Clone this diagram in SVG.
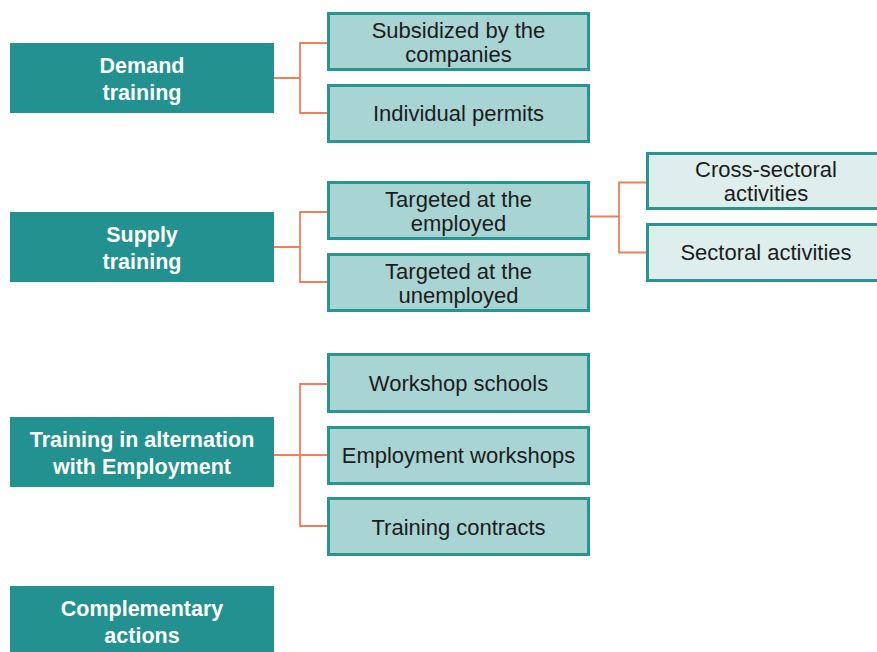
<svg xmlns="http://www.w3.org/2000/svg" width="877" height="652" viewBox="0 0 877 652">
  <style>
    .main rect { fill: #23918f; }
    .main text { fill: #ffffff; font-family: "Liberation Sans", Arial, sans-serif; font-size: 21.5px; font-weight: bold; text-anchor: middle; }
    .sub rect { fill: #a8d4d4; stroke: #2a9491; stroke-width: 3; }
    .leaf rect { fill: #ddeeed; stroke: #2a9491; stroke-width: 3; }
    .sub text, .leaf text { fill: #1c1c1c; font-family: "Liberation Sans", Arial, sans-serif; font-size: 22px; text-anchor: middle; }
    .links path { fill: none; stroke: #ef7f58; stroke-width: 1.8; }
  </style>
  <rect width="877" height="652" fill="#ffffff"/>

  <!-- connectors -->
  <g class="links">
    <path d="M274,78 H300 M327,43 H300 V113 H327"/>
    <path d="M274,247 H300 M327,212 H300 V282 H327"/>
    <path d="M590,216.5 H619 M646,182.5 H619 V252.5 H646"/>
    <path d="M274,455 H327 M327,384 H300 V526 H327"/>
  </g>

  <!-- main categories -->
  <g id="demand-training" class="main">
    <rect x="10" y="43" width="264" height="70"/>
    <text x="142" y="73">Demand</text>
    <text x="142" y="100">training</text>
  </g>
  <g id="supply-training" class="main">
    <rect x="10" y="212" width="264" height="70"/>
    <text x="142" y="242">Supply</text>
    <text x="142" y="269">training</text>
  </g>
  <g id="alternation-training" class="main">
    <rect x="10" y="417" width="264" height="70"/>
    <text x="142" y="447">Training in alternation</text>
    <text x="142" y="474">with Employment</text>
  </g>
  <g id="complementary-actions" class="main">
    <rect x="10" y="586" width="264" height="72"/>
    <text x="142" y="616">Complementary</text>
    <text x="142" y="643">actions</text>
  </g>

  <!-- demand training branches -->
  <g id="subsidized" class="sub">
    <rect x="328.5" y="13.5" width="260" height="56"/>
    <text x="458.5" y="38">Subsidized by the</text>
    <text x="458.5" y="62">companies</text>
  </g>
  <g id="individual-permits" class="sub">
    <rect x="328.5" y="85.5" width="260" height="56"/>
    <text x="458.5" y="121">Individual permits</text>
  </g>

  <!-- supply training branches -->
  <g id="employed" class="sub">
    <rect x="328.5" y="182.5" width="260" height="56"/>
    <text x="458.5" y="207">Targeted at the</text>
    <text x="458.5" y="231">employed</text>
  </g>
  <g id="unemployed" class="sub">
    <rect x="328.5" y="254.5" width="260" height="56"/>
    <text x="458.5" y="279">Targeted at the</text>
    <text x="458.5" y="303">unemployed</text>
  </g>

  <!-- employed sub-branches -->
  <g id="cross-sectoral" class="leaf">
    <rect x="647.5" y="153.5" width="240" height="55"/>
    <text x="766" y="177">Cross-sectoral</text>
    <text x="766" y="201">activities</text>
  </g>
  <g id="sectoral" class="leaf">
    <rect x="647.5" y="224.5" width="240" height="56"/>
    <text x="766" y="260">Sectoral activities</text>
  </g>

  <!-- alternation branches -->
  <g id="workshop-schools" class="sub">
    <rect x="328.5" y="354.5" width="260" height="57"/>
    <text x="458.5" y="391">Workshop schools</text>
  </g>
  <g id="employment-workshops" class="sub">
    <rect x="328.5" y="427.5" width="260" height="56"/>
    <text x="458.5" y="463">Employment workshops</text>
  </g>
  <g id="training-contracts" class="sub">
    <rect x="328.5" y="498.5" width="260" height="56"/>
    <text x="458.5" y="535">Training contracts</text>
  </g>
</svg>
